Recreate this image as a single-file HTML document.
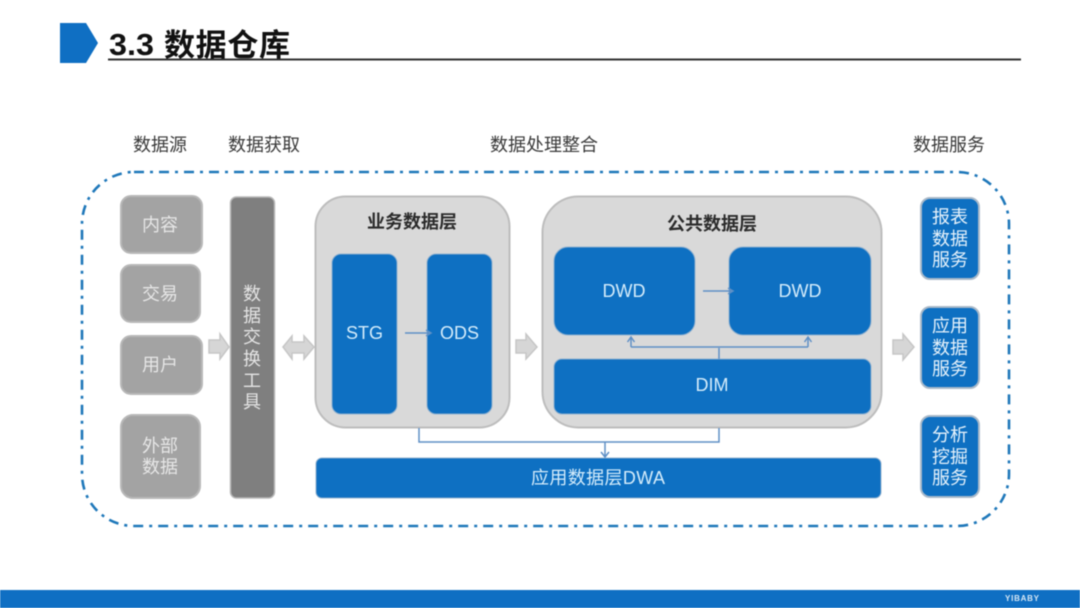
<!DOCTYPE html>
<html><head><meta charset="utf-8">
<style>
html,body{margin:0;padding:0;background:#fff;width:1080px;height:608px;overflow:hidden}
svg{display:block;font-family:"Liberation Sans","Noto Sans CJK SC",sans-serif;filter:blur(0.45px)}
</style></head><body>
<svg width="1080" height="608" viewBox="0 0 1080 608" xmlns="http://www.w3.org/2000/svg">
<rect width="1080" height="608" fill="#fff"/>
<!-- header -->
<polygon points="60,23 86,23 98,43 86,63 60,63" fill="#0f6fc3"/>
<rect x="108" y="58.500" width="913" height="2" fill="#333"/>
<text x="109" y="55" font-size="31" font-weight="bold" fill="#111" textLength="45" lengthAdjust="spacingAndGlyphs">3.3</text>
<text x="164" y="56" font-size="31" font-weight="bold" fill="#111" textLength="126">数据仓库</text>
<!-- column labels -->
<g font-size="18" fill="#3a3a3a" text-anchor="middle">
<text x="160" y="151">数据源</text>
<text x="264" y="151">数据获取</text>
<text x="544" y="151">数据处理整合</text>
<text x="949" y="151">数据服务</text>
</g>
<!-- dashed frame -->
<rect x="82" y="172" width="927" height="354" rx="52" ry="52" fill="none" stroke="#1f78ba" stroke-width="2.600" stroke-dasharray="10 6 3 6"/>
<!-- sources -->
<g fill="#a3a3a3" stroke="#b8b8b8" stroke-width="2">
<rect x="121" y="196" width="81" height="57" rx="10"/>
<rect x="121" y="265" width="79" height="57" rx="10"/>
<rect x="121" y="336" width="81" height="58" rx="10"/>
<rect x="121" y="415" width="79" height="83" rx="12"/>
</g>
<g font-size="18" fill="#e6e6e6" text-anchor="middle">
<text x="160" y="231">内容</text>
<text x="160" y="300">交易</text>
<text x="160" y="371">用户</text>
<text x="160" y="452">外部</text>
<text x="160" y="473">数据</text>
</g>
<!-- exchange tool -->
<rect x="230.500" y="197" width="44" height="301" rx="6" fill="#7f7f7f" stroke="#b8b8b8" stroke-width="1.500"/>
<g font-size="18" fill="#e4e4e4" text-anchor="middle">
<text x="252" y="300">数</text>
<text x="252" y="322">据</text>
<text x="252" y="343">交</text>
<text x="252" y="365">换</text>
<text x="252" y="387">工</text>
<text x="252" y="408">具</text>
</g>
<!-- block arrows -->
<g fill="#d6d6d6" stroke="#c6c6c6" stroke-width="1.500">
<polygon points="209,340 220,340 220,334 229,347 220,359 220,353 209,353"/>
<polygon points="283,347 292,336 292,342 304,342 304,336 314,347 304,359 304,353 292,353 292,359"/>
<polygon points="516,340 526,340 526,334 537,347 526,359 526,353 516,353"/>
<polygon points="893,340 903,340 903,334 914,347 903,360 903,354 893,354"/>
</g>
<!-- panels -->
<rect x="315.500" y="196.500" width="194" height="231" rx="30" fill="#d9d9d9" stroke="#bdbdbd" stroke-width="2"/>
<rect x="542.500" y="196.500" width="339" height="231" rx="36" fill="#d9d9d9" stroke="#bdbdbd" stroke-width="2"/>
<g font-size="18" font-weight="bold" fill="#2b2b2b" text-anchor="middle">
<text x="412" y="228">业务数据层</text>
<text x="712" y="230">公共数据层</text>
</g>
<!-- blue boxes -->
<g fill="#0e70c2" stroke="#8fb0cf" stroke-width="1">
<rect x="332" y="254" width="65" height="160" rx="9"/>
<rect x="427" y="254" width="65" height="160" rx="9"/>
<rect x="554" y="247" width="141" height="88" rx="14"/>
<rect x="729" y="247" width="142" height="88" rx="14"/>
<rect x="554" y="359" width="317" height="55" rx="8"/>
<rect x="316" y="458" width="565" height="40" rx="6"/>
</g>
<g fill="#0e70c2" stroke="#a9b9c9" stroke-width="2">
<rect x="921" y="198" width="58" height="81" rx="9"/>
<rect x="921" y="307" width="58" height="81" rx="9"/>
<rect x="921" y="416" width="58" height="81" rx="9"/>
</g>
<g font-size="18" fill="#d4ecfb" text-anchor="middle">
<text x="364.500" y="339">STG</text>
<text x="459.500" y="339">ODS</text>
<text x="624" y="297">DWD</text>
<text x="800" y="297">DWD</text>
<text x="712" y="391">DIM</text>
<text x="598" y="484" textLength="134">应用数据层DWA</text>
</g>
<g font-size="18" fill="#e6f2fb" text-anchor="middle">
<text x="950" y="223">报表</text>
<text x="950" y="245">数据</text>
<text x="950" y="266">服务</text>
<text x="950" y="332">应用</text>
<text x="950" y="354">数据</text>
<text x="950" y="375">服务</text>
<text x="950" y="441">分析</text>
<text x="950" y="463">挖掘</text>
<text x="950" y="484">服务</text>
</g>
<!-- connectors -->
<g fill="none" stroke="#5f90c6" stroke-width="1.500">
<path d="M405 333H431M426 330L431 333L426 336"/>
<path d="M703 291H733M728 288L733 291L728 294"/>
<path d="M719 359V348M631 347H808M631 347V337M627.500 342L631 337L634.500 342M808 347V337M804.500 342L808 337L811.500 342"/>
<path d="M419 428V442H719V428M605 442V456M601 452L605 457L609 452"/>
</g>
<!-- footer -->
<rect x="0" y="590" width="1080" height="18" fill="#0f6fc3"/>
<text x="1005" y="601" font-size="8" font-weight="bold" fill="#d8e8f5" textLength="34">YIBABY</text>
</svg>
</body></html>
